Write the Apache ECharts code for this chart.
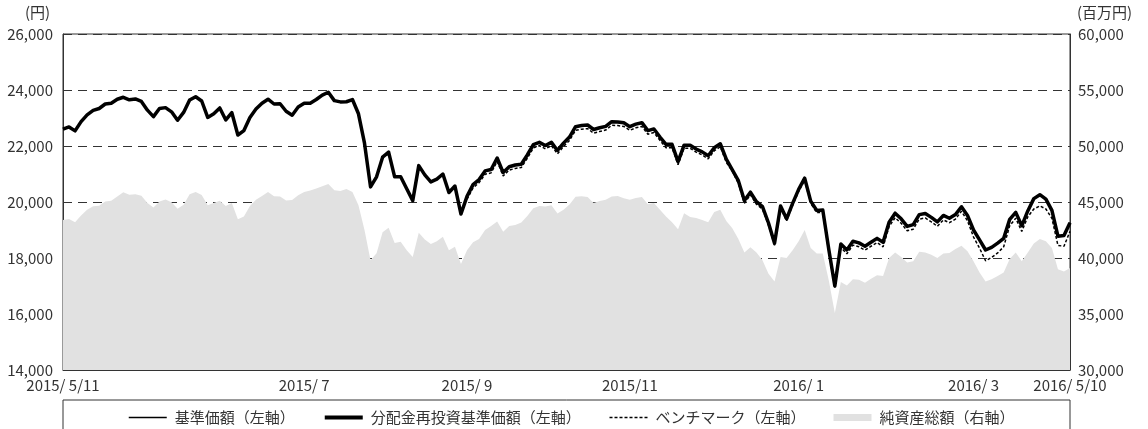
<!DOCTYPE html>
<html><head><meta charset="utf-8">
<script src="https://cdn.jsdelivr.net/npm/echarts@6/dist/echarts.min.js"></script>
<style>html,body{margin:0;padding:0;background:#fff}#c{width:1148px;height:429px}</style>
</head><body><div id="c"></div>
<script>
// Tick labels for the category (date) axis and the sample index where each sits
const tickLabels = ['2015/ 5/11', '2015/ 7', '2015/ 9', '2015/11', '2016/ 1', '2016/ 3', '2016/ 5/10'];
const tickIndex = [0, 40, 67, 94, 122, 151, 167];

// 分配金再投資基準価額 (円)
const navReinvested = [
22600,22680,22540,22870,23110,23270,23340,23500,23525,23670,
23740,23650,23680,23590,23280,23050,23340,23370,23220,22920,
23200,23640,23760,23607,23020,23150,23360,22930,23190,22393,
22550,23020,23320,23530,23670,23500,23510,23240,23100,23390,
23525,23525,23660,23820,23920,23620,23575,23580,23660,23150,
22100,20540,20900,21600,21780,20900,20900,20470,20050,21300,
20970,20720,20820,21000,20340,20571,19571,20200,20620,20800,
21110,21160,21570,21050,21260,21320,21350,21680,22050,22130,
22020,22130,21840,22100,22320,22690,22730,22750,22590,22650,
22700,22870,22860,22830,22690,22780,22833,22550,22610,22320,
22060,22060,21440,22030,22030,21890,21790,21650,21940,22080,
21530,21150,20760,20050,20350,20011,19833,19250,18524,19860,
19400,19950,20450,20850,20030,19700,19714,18300,17000,18500,
18290,18600,18540,18420,18560,18700,18560,19280,19600,19400,
19130,19190,19550,19590,19450,19290,19520,19420,19550,19830,
19520,19000,18650,18286,18380,18530,18700,19380,19630,19150,
19680,20120,20260,20100,19700,18780,18800,19262];

// 基準価額 (円) — coincides with the reinvested series (no distributions)
const nav = navReinvested.slice();

// ベンチマーク (円), starts at the 2015/9 sample
const benchmark = [
null,null,null,null,null,null,null,null,null,null,
null,null,null,null,null,null,null,null,null,null,
null,null,null,null,null,null,null,null,null,null,
null,null,null,null,null,null,null,null,null,null,
null,null,null,null,null,null,null,null,null,null,
null,null,null,null,null,null,null,null,null,null,
null,null,null,null,null,null,null,20100,20500,20690,
20990,21040,21450,20930,21140,21200,21230,21560,21930,22010,
21900,22010,21720,21980,22200,22560,22600,22620,22460,22520,
22570,22740,22730,22700,22560,22650,22700,22420,22480,22200,
21940,21940,21330,21920,21920,21780,21680,21540,21830,21970,
21420,21100,20660,19950,20260,19920,19740,19170,18450,19790,
19330,19880,20380,20780,19950,19620,19630,18220,16950,18380,
18150,18460,18400,18280,18420,18550,18400,19120,19440,19240,
18970,19030,19390,19430,19290,19130,19360,19260,19390,19670,
19330,18750,18350,17900,18020,18180,18400,19150,19420,18950,
19470,19750,19860,19750,19420,18450,18420,18950];

// 純資産総額 (百万円)
const netAssets = [
43400,43480,43190,43800,44300,44620,44670,45040,45110,45490,
45860,45650,45700,45560,44900,44500,45050,45220,44980,44400,
44750,45700,45900,45625,44700,44900,45120,44650,44900,43452,
43700,44650,45200,45540,45900,45520,45500,45140,45180,45600,
45900,46020,46200,46400,46600,46050,45982,46150,45900,44700,
42500,39800,40420,42300,42700,41350,41450,40700,40100,42250,
41650,41250,41500,41900,40700,41000,39464,40700,41400,41700,
42500,42850,43250,42350,42850,42950,43160,43750,44450,44650,
44600,44700,43980,44300,44780,45470,45520,45450,44900,45100,
45200,45500,45530,45330,45200,45350,45450,44800,44900,44300,
43700,43200,42560,44000,43650,43580,43400,43200,44100,44300,
43300,42650,41700,40500,40950,40500,39800,38600,37900,40100,
40000,40700,41500,42500,40900,40400,40400,38000,35100,37850,
37550,38100,38050,37800,38150,38450,38400,40000,40500,40100,
39600,39700,40550,40500,40300,40000,40400,40450,40800,41100,
40600,39700,38700,37900,38100,38400,38700,39900,40500,39700,
40500,41300,41700,41500,40900,39000,38800,39100];

const leftAxis = {min: 14000, max: 26000, step: 2000};
const rightAxis = {min: 30000, max: 60000, step: 5000};
const seriesNames = ['基準価額（左軸）', '分配金再投資基準価額（左軸）', 'ベンチマーク（左軸）', '純資産総額（右軸）'];
const unitLeft = '(円)';
const unitRight = '(百万円)';

const categories = navReinvested.map((_, i) => {
  const k = tickIndex.indexOf(i);
  return k >= 0 ? tickLabels[k] : '';
});

const FONT = '"Noto Sans CJK JP", "Noto Sans", sans-serif';
const TXT = '#333';
const fmt = v => v.toLocaleString('en-US');
const noSymbol = {color: 'rgba(0,0,0,0)', borderWidth: 0, borderColor: 'rgba(0,0,0,0)'};

const chart = echarts.init(document.getElementById('c'), null, {renderer: 'canvas'});
chart.setOption({
  animation: false,
  backgroundColor: '#fff',
  textStyle: {fontFamily: FONT},
  grid: {left: 63, right: 78, top: 34, bottom: 59, show: true, borderColor: '#333', borderWidth: 1, backgroundColor: 'transparent'},
  xAxis: {
    type: 'category', data: categories, boundaryGap: false,
    axisLine: {lineStyle: {color: '#333', width: 1}},
    axisTick: {show: true, inside: true, length: 7, lineStyle: {color: '#333'},
      interval: (i) => tickIndex.includes(i) && i !== 0 && i !== categories.length - 1},
    axisLabel: {interval: (i) => tickIndex.includes(i), showMinLabel: true, showMaxLabel: true,
      color: TXT, fontSize: 15, fontFamily: FONT, margin: 8},
    splitLine: {show: false}
  },
  yAxis: [{
    type: 'value', min: leftAxis.min, max: leftAxis.max, interval: leftAxis.step,
    axisLine: {show: true, lineStyle: {color: '#333'}}, axisTick: {show: false},
    axisLabel: {color: TXT, fontSize: 15, fontFamily: FONT, margin: 10, formatter: fmt},
    splitLine: {show: true, lineStyle: {color: '#333', type: [9, 6], width: 1}}
  }, {
    type: 'value', min: rightAxis.min, max: rightAxis.max, interval: rightAxis.step, position: 'right',
    axisLine: {show: true, lineStyle: {color: '#333'}}, axisTick: {show: false},
    axisLabel: {color: TXT, fontSize: 15, fontFamily: FONT, margin: 8, formatter: fmt},
    splitLine: {show: false}
  }],
  legend: {
    left: 123, top: 405, itemWidth: 38, itemHeight: 7, itemGap: 28,
    textStyle: {color: TXT, fontSize: 15, fontFamily: FONT, padding: [0, 0, 0, 3]},
    data: [
      {name: seriesNames[0], lineStyle: {width: 1.5, color: '#000'}, itemStyle: noSymbol},
      {name: seriesNames[1], lineStyle: {width: 4, color: '#000'}, itemStyle: noSymbol},
      {name: seriesNames[2], lineStyle: {width: 1.5, color: '#000', type: [3, 2]}, itemStyle: noSymbol},
      {name: seriesNames[3], icon: 'rect', itemStyle: {color: '#e1e1e1'}}
    ]
  },
  graphic: [
    {type: 'rect', shape: {x: 63, y: 400, width: 1007, height: 40}, style: {fill: 'none', stroke: '#333', lineWidth: 1}, silent: true},
    {type: 'text', left: 25, top: 5, style: {text: unitLeft, fill: TXT, font: '15px ' + FONT}},
    {type: 'text', left: 1077, top: 5, style: {text: unitRight, fill: TXT, font: '15px ' + FONT}}
  ],
  series: [
    {name: seriesNames[3], type: 'line', yAxisIndex: 1, data: netAssets, symbol: 'none',
      lineStyle: {width: 0}, itemStyle: {color: '#e1e1e1'}, areaStyle: {color: '#e1e1e1', opacity: 1}, z: 1},
    {name: seriesNames[2], type: 'line', data: benchmark, symbol: 'none',
      lineStyle: {width: 1.5, color: '#000', type: [3, 2]}, itemStyle: {color: '#000'}, z: 3},
    {name: seriesNames[0], type: 'line', data: nav, symbol: 'none',
      lineStyle: {width: 1.5, color: '#000'}, itemStyle: {color: '#000'}, z: 4},
    {name: seriesNames[1], type: 'line', data: navReinvested, symbol: 'none',
      lineStyle: {width: 3.5, color: '#000', join: 'round'}, itemStyle: {color: '#000'}, z: 5}
  ]
});
</script></body></html>
